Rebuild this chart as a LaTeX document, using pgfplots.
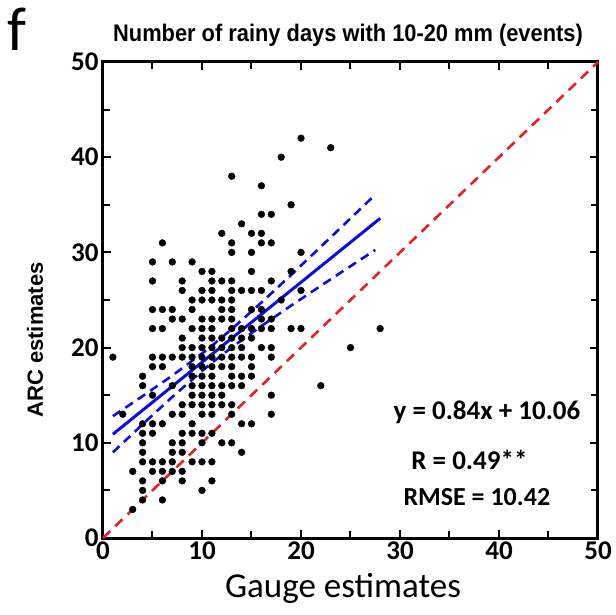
\documentclass[border=0pt]{standalone}
\usepackage{fontspec}
\usepackage{pgfplots}
\pgfplotsset{compat=1.18}
\usetikzlibrary{calc}
\setmainfont{Carlito}
\newfontfamily\arialn[FakeStretch=0.91]{Liberation Sans}
\newfontfamily\arial{Liberation Sans}
\definecolor{myred}{RGB}{228,32,36}
\definecolor{myblue}{RGB}{12,12,225}
\pgfplotstableread{
x y
1 19
2 13
3 7
3 3
4 17
4 16
4 12
4 11
4 10
4 9
4 8
4 6
4 5
4 4
5 29
5 27
5 24
5 22
5 19
5 18
5 15
5 12
5 11
5 8
5 7
6 31
6 24
6 22
6 19
6 18
6 12
6 8
6 7
6 6
6 4
7 29
7 24
7 23
7 19
7 16
7 13
7 10
7 9
7 8
7 7
8 27
8 26
8 23
8 21
8 20
8 19
8 14
8 13
8 11
8 10
8 9
8 7
8 6
9 29
9 25
9 24
9 22
9 20
9 19
9 18
9 17
9 16
9 15
9 14
9 12
9 11
9 8
10 28
10 26
10 25
10 23
10 22
10 21
10 20
10 19
10 18
10 17
10 16
10 15
10 14
10 13
10 11
10 10
10 8
10 5
11 28
11 27
11 26
11 25
11 23
11 22
11 21
11 20
11 19
11 18
11 17
11 16
11 15
11 14
11 13
11 11
11 8
11 6
12 32
12 27
12 25
12 24
12 23
12 21
12 20
12 19
12 18
12 16
12 15
12 14
12 10
13 38
13 31
13 30
13 27
13 26
13 25
13 24
13 23
13 22
13 21
13 20
13 19
13 18
13 17
13 16
13 14
13 13
13 10
14 33
14 26
14 22
14 21
14 20
14 19
14 17
14 16
14 12
14 9
15 32
15 30
15 28
15 26
15 24
15 22
15 21
15 19
15 18
15 17
15 12
16 37
16 34
16 32
16 31
16 26
16 24
16 23
16 22
16 20
17 34
17 31
17 27
17 23
17 22
17 20
17 19
17 15
17 13
18 40
18 25
19 35
19 28
19 22
20 42
20 30
20 26
20 22
22 16
23 41
25 20
28 22
}\scatterdata
\begin{document}
\begin{tikzpicture}
\begin{axis}[
  name=ax,
  width=495bp, height=476bp, scale only axis,
  xmin=0, xmax=50, ymin=0, ymax=50,
  xtick={0,10,...,50}, ytick={0,10,...,50},
  minor xtick={5,15,...,45}, minor ytick={5,15,...,45},
  tick align=inside,
  major tick length=8bp, minor tick length=7bp,
  every tick/.style={line width=2bp, black},
  every minor tick/.style={line width=2bp, black},
  axis line style={line width=3bp, black},
  /pgf/number format/assume math mode=true,
  ticklabel style={font=\bfseries\fontsize{27bp}{29bp}\selectfont},
  xticklabel style={yshift=0bp},
  yticklabel style={xshift=-1bp},
  clip=false,
]
\addplot[myred, line width=2.6bp, dash pattern=on 10bp off 7bp] coordinates {(0,0) (50,50)};
\addplot[only marks, mark=*, mark size=3.4bp, black] table[x=x, y=y] {\scatterdata};
\addplot[myblue, line width=3bp] coordinates {(1,10.90) (28,33.58)};
\addplot[myblue, line width=2.6bp, dash pattern=on 9bp off 6bp] coordinates {
(1,12.80) (4,14.90) (7,17.06) (10,19.38) (11,20.20) (13,21.94) (16,24.73) (19,27.63) (22,30.59) (25,33.57) (27.5,36.06)};
\addplot[myblue, line width=2.6bp, dash pattern=on 9bp off 6bp] coordinates {
(1,9.00) (4,11.94) (7,14.82) (10,17.54) (11,18.40) (13,20.02) (16,22.27) (19,24.41) (22,26.49) (25,28.55) (27.5,30.26)};
\node[anchor=west, font=\bfseries\fontsize{27bp}{29bp}\selectfont] at (axis cs:29,13.2) {y = 0.84x + 10.06};
\node[anchor=west, font=\bfseries\fontsize{27bp}{29bp}\selectfont] at (axis cs:30.8,8.2) {R = 0.49**};
\node[anchor=west, font=\bfseries\fontsize{26bp}{29bp}\selectfont] at (axis cs:30,4.3) {RMSE = 10.42};
\end{axis}
\node[font=\arialn\bfseries\fontsize{24bp}{26bp}\selectfont] at ($(ax.south west)+(245bp,503bp)$) {Number of rainy days with 10-20 mm (events)};
\node[font=\fontsize{62bp}{62bp}\selectfont] at ($(ax.south west)+(-86bp,509bp)$) {f};
\node[font=\fontsize{35bp}{38bp}\selectfont] at ($(ax.south west)+(240bp,-50bp)$) {Gauge estimates};
\node[rotate=90, font=\arial\bfseries\fontsize{22bp}{24bp}\selectfont] at ($(ax.south west)+(-68bp,198bp)$) {ARC estimates};
\pgfresetboundingbox
\path ($(ax.south west)+(-103bp,-77bp)$) rectangle ($(ax.south west)+(513bp,538bp)$);
\end{tikzpicture}
\end{document}
